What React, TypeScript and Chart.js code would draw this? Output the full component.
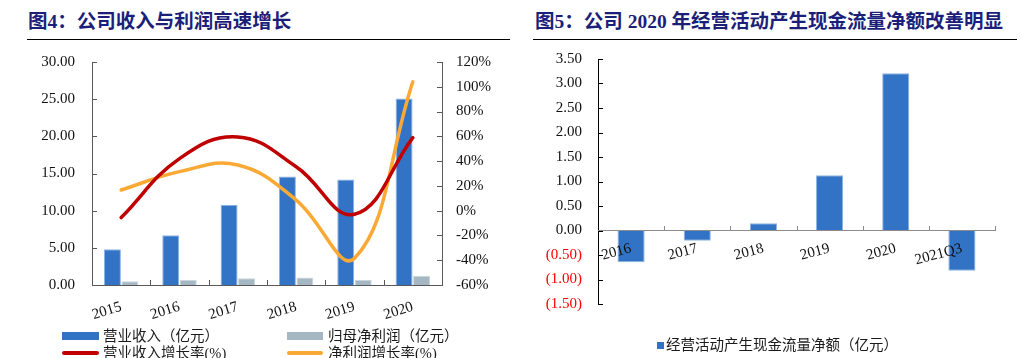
import React, { useEffect, useRef } from 'react';
import { Chart, registerables } from 'chart.js';

Chart.register(...registerables);

// ---------- Data (figure 4) ----------
const years = ['2015', '2016', '2017', '2018', '2019', '2020'];
const revenue = [4.8, 6.7, 10.8, 14.6, 14.2, 25.1];
const netProfit = [0.5, 0.67, 0.9, 1.0, 0.67, 1.25];
const revenueGrowth = [-5.6, 42, 59.5, 35.5, -2.9, 59];
const profitGrowth = [16.7, 31.5, 36.9, 8.6, -38.4, 104];
const seriesNames4 = ['营业收入（亿元）', '归母净利润（亿元）', '营业收入增长率(%)', '净利润增长率(%)'];

// ---------- Data (figure 5) ----------
const cfPeriods = ['2016', '2017', '2018', '2019', '2020', '2021Q3'];
const cfValues = [-0.65, -0.21, 0.15, 1.13, 3.21, -0.82];
const seriesName5 = '经营活动产生现金流量净额（亿元）';

const title4 = '图4：公司收入与利润高速增长';
const title5 = '图5：公司 2020 年经营活动产生现金流量净额改善明显';

const SERIF = "'Liberation Serif', 'Times New Roman', serif";
const MIXED = "'Liberation Serif', 'Noto Sans CJK SC', serif";

const BLUE = '#3273C5';
const BLUE_EDGE = '#8DB3E2';
const GREY = '#A5B7C2';
const RED = '#C00000';
const ORANGE = '#FBA935';

// draws short "inside" tick marks on axes, positions derived from the scales
const insideTicks = {
  id: 'insideTicks',
  afterDatasetsDraw(chart: any, _args: any, opts: any) {
    const specs = (opts && opts.specs) || [];
    const ctx = chart.ctx;
    ctx.save();
    for (const s of specs) {
      const scale = chart.scales[s.id];
      if (!scale) continue;
      ctx.strokeStyle = s.color;
      ctx.lineWidth = 1;
      ctx.beginPath();
      if (s.kind === 'y') {
        const left = s.side === 'left';
        const x0 = left ? scale.right : scale.left;
        for (const t of scale.ticks) {
          const y = Math.round(scale.getPixelForValue(t.value)) + 0.5;
          ctx.moveTo(x0, y);
          ctx.lineTo(left ? x0 + s.len : x0 - s.len, y);
        }
      } else {
        const n = scale.ticks.length;
        const half = (scale.getPixelForValue(1) - scale.getPixelForValue(0)) / 2;
        const y0 = s.atZero ? Math.round(chart.scales.y.getPixelForValue(0)) : scale.top;
        for (let i = 1; i <= n; i++) {
          const x = Math.round(scale.getPixelForValue(i) - half) + 0.5;
          ctx.moveTo(x, y0);
          ctx.lineTo(x, y0 - s.len);
        }
      }
      ctx.stroke();
    }
    ctx.restore();
  },
};

// fix a vertical axis width and drop the automatic label padding above/below
const fixY = (w: number) => (s: any) => {
  s.width = w;
  s.paddingTop = 0;
  s.paddingBottom = 0;
};

function Figure4() {
  const ref = useRef<HTMLCanvasElement | null>(null);
  useEffect(() => {
    if (!ref.current) return;
    const chart = new Chart(ref.current, {
      type: 'bar',
      data: {
        labels: years,
        datasets: [
          {
            type: 'line',
            label: seriesNames4[2],
            data: revenueGrowth,
            yAxisID: 'y1',
            borderColor: RED,
            backgroundColor: RED,
            borderWidth: 3.5,
            tension: 0.42,
            pointRadius: 0,
            borderCapStyle: 'round',
            order: 0,
          } as any,
          {
            type: 'line',
            label: seriesNames4[3],
            data: profitGrowth,
            yAxisID: 'y1',
            borderColor: ORANGE,
            backgroundColor: ORANGE,
            borderWidth: 3.5,
            tension: 0.42,
            pointRadius: 0,
            borderCapStyle: 'round',
            order: 0,
          } as any,
          {
            type: 'bar',
            label: seriesNames4[0],
            data: revenue,
            yAxisID: 'y',
            backgroundColor: BLUE,
            borderColor: BLUE_EDGE,
            borderWidth: 1,
            categoryPercentage: 0.6,
            barPercentage: 0.97,
            order: 1,
          } as any,
          {
            type: 'bar',
            label: seriesNames4[1],
            data: netProfit,
            yAxisID: 'y',
            backgroundColor: GREY,
            borderColor: '#C9D5DC',
            borderWidth: 1,
            categoryPercentage: 0.6,
            barPercentage: 0.97,
            order: 1,
          } as any,
        ],
      },
      options: {
        animation: false,
        responsive: false,
        maintainAspectRatio: false,
        layout: { padding: { top: 22, left: 0, right: 0, bottom: 0 } },
        plugins: {
          legend: { display: false },
          tooltip: { enabled: false },
          insideTicks: {
            specs: [
              { id: 'y', kind: 'y', side: 'left', len: 5, color: '#595959' },
              { id: 'y1', kind: 'y', side: 'right', len: 5, color: '#595959' },
              { id: 'x', kind: 'x', len: 5, color: '#595959' },
            ],
          },
        } as any,
        scales: {
          x: {
            grid: { display: false, drawTicks: false },
            border: { display: true, color: '#595959', width: 1 },
            ticks: {
              color: '#111',
              font: { family: SERIF, size: 15 },
              minRotation: 17,
              maxRotation: 17,
              padding: 13,
            },
            afterFit: (s: any) => { s.height = 45; },
          },
          y: {
            position: 'left',
            min: 0,
            max: 30,
            grid: { display: false, drawTicks: false },
            border: { display: true, color: '#595959', width: 1 },
            ticks: {
              stepSize: 5,
              color: '#111',
              font: { family: SERIF, size: 15 },
              padding: 17,
              callback: (v: any) => Number(v).toFixed(2),
            },
            afterFit: fixY(92),
          },
          y1: {
            position: 'right',
            min: -60,
            max: 120,
            grid: { display: false, drawTicks: false },
            border: { display: true, color: '#595959', width: 1 },
            ticks: {
              stepSize: 20,
              color: '#111',
              font: { family: SERIF, size: 15 },
              padding: 14,
              callback: (v: any) => `${Math.round(Number(v))}%`,
            },
            afterFit: fixY(68),
          },
        },
      } as any,
      plugins: [insideTicks as any],
    });
    return () => chart.destroy();
  }, []);
  return (
    <canvas
      ref={ref}
      width={510}
      height={290}
      style={{ position: 'absolute', left: 0, top: 40, width: 510, height: 290 }}
    />
  );
}

function Figure5() {
  const ref = useRef<HTMLCanvasElement | null>(null);
  useEffect(() => {
    if (!ref.current) return;
    const chart = new Chart(ref.current, {
      type: 'bar',
      data: {
        labels: cfPeriods,
        datasets: [
          {
            label: seriesName5,
            data: cfValues,
            backgroundColor: BLUE,
            borderColor: BLUE_EDGE,
            borderWidth: 1,
            categoryPercentage: 0.41,
            barPercentage: 1,
          } as any,
        ],
      },
      options: {
        animation: false,
        responsive: false,
        maintainAspectRatio: false,
        layout: { padding: { top: 19, left: 0, right: 26, bottom: 16 } },
        plugins: {
          legend: { display: false },
          tooltip: { enabled: false },
          insideTicks: {
            specs: [
              { id: 'y', kind: 'y', side: 'left', len: 5, color: '#000' },
              { id: 'x', kind: 'x', len: 5, atZero: true, color: '#8C8C8C' },
            ],
          },
        } as any,
        scales: {
          x: {
            position: { y: 0 },
            grid: { display: false, drawTicks: false },
            border: { display: true, color: '#8C8C8C', width: 1, z: 1 },
            ticks: {
              z: 1,
              color: '#111',
              font: { family: SERIF, size: 15 },
              minRotation: 15,
              maxRotation: 15,
              padding: 9,
            },
            afterFit: (s: any) => { s.height = 0; },
          },
          y: {
            position: 'left',
            min: -1.5,
            max: 3.5,
            grid: { display: false, drawTicks: false },
            border: { display: true, color: '#000', width: 1 },
            ticks: {
              stepSize: 0.5,
              font: { family: SERIF, size: 15 },
              padding: 16,
              color: (c: any) => (c.tick && c.tick.value < -1e-9 ? '#FF0000' : '#111'),
              callback: (v: any) => {
                const n = Number(v);
                return n < -1e-9 ? `(${Math.abs(n).toFixed(2)})` : Math.abs(n).toFixed(2);
              },
            },
            afterFit: fixY(88),
          },
        },
      } as any,
      plugins: [insideTicks as any],
    });
    return () => chart.destroy();
  }, []);
  return (
    <canvas
      ref={ref}
      width={511}
      height={280}
      style={{ position: 'absolute', left: 510, top: 40, width: 511, height: 280 }}
    />
  );
}

const titleStyle: React.CSSProperties = {
  position: 'absolute',
  top: 11,
  fontFamily: MIXED,
  fontWeight: 700,
  fontSize: 19.5,
  lineHeight: '22px',
  color: '#1B1F7A',
  whiteSpace: 'nowrap',
};

const legendText: React.CSSProperties = {
  position: 'absolute',
  fontFamily: MIXED,
  fontSize: 14.5,
  lineHeight: '16px',
  color: '#1a1a1a',
  whiteSpace: 'nowrap',
};

export default function App() {
  return (
    <div
      style={{
        position: 'fixed',
        left: 0,
        top: 0,
        width: 1021,
        height: 358,
        background: '#fff',
        overflow: 'hidden',
      }}
    >
      <div style={{ ...titleStyle, left: 28 }}>{title4}</div>
      <div style={{ position: 'absolute', left: 27, top: 39, width: 483, height: 1, background: '#000' }} />
      <div style={{ ...titleStyle, left: 535 }}>{title5}</div>
      <div style={{ position: 'absolute', left: 533, top: 39, width: 484, height: 1, background: '#000' }} />

      <Figure4 />
      <Figure5 />

      {/* legend for figure 4 */}
      <div style={{ position: 'absolute', left: 62, top: 332, width: 37, height: 8, background: BLUE }} />
      <div style={{ ...legendText, left: 103, top: 328 }}>{seriesNames4[0]}</div>
      <div style={{ position: 'absolute', left: 287, top: 332, width: 36, height: 8, background: GREY }} />
      <div style={{ ...legendText, left: 328, top: 328 }}>{seriesNames4[1]}</div>
      <div style={{ position: 'absolute', left: 62, top: 351, width: 37, height: 4, borderRadius: 2, background: RED }} />
      <div style={{ ...legendText, left: 103, top: 345 }}>{seriesNames4[2]}</div>
      <div style={{ position: 'absolute', left: 287, top: 351, width: 36, height: 4, borderRadius: 2, background: ORANGE }} />
      <div style={{ ...legendText, left: 328, top: 345 }}>{seriesNames4[3]}</div>

      {/* legend for figure 5 */}
      <div style={{ position: 'absolute', left: 657, top: 342, width: 7, height: 7, background: BLUE }} />
      <div style={{ ...legendText, left: 666, top: 337 }}>{seriesName5}</div>
    </div>
  );
}
